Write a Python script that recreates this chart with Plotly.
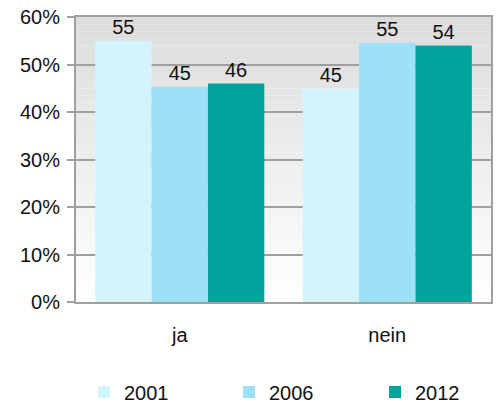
import plotly.graph_objects as go

categories = ["ja", "nein"]
years = ["2001", "2006", "2012"]
values_2001 = [55, 44.9]
values_2006 = [45.3, 54.6]
values_2012 = [46, 54]
labels_2001 = ["55", "45"]
labels_2006 = ["45", "55"]
labels_2012 = ["46", "54"]
colors = ["#d3f4fc", "#9ee0f5", "#00a39b"]
y_ticks = [0, 10, 20, 30, 40, 50, 60]
y_ticktext = ["0%", "10%", "20%", "30%", "40%", "50%", "60%"]

FONT = "Liberation Sans, Arial, sans-serif"
FS = 20
legend_ids = ["legend", "legend2", "legend3"]
legend_x = [84, 229, 375]

fig = go.Figure()
for name, vals, labs, col, lid in zip(years, [values_2001, values_2006, values_2012],
                                       [labels_2001, labels_2006, labels_2012], colors, legend_ids):
    fig.add_trace(go.Bar(
        x=categories, y=vals, name=name, marker=dict(color=col, line=dict(width=0)),
        text=labs, textposition="outside", cliponaxis=False,
        textfont=dict(size=FS, color="#111111", family=FONT),
        legend=lid,
    ))

# gradient background in plot area
shapes = []
n = 40
for i in range(n):
    t = i / (n - 1)
    c = int(round(255 - (255 - 220) * t))
    shapes.append(dict(type="rect", xref="paper", yref="paper",
                       x0=0, x1=1, y0=i / n, y1=(i + 1) / n,
                       fillcolor=f"rgb({c},{c},{c})", line=dict(width=0), layer="below"))

legend_common = dict(orientation="h", xref="container", yref="container",
                     yanchor="middle", xanchor="left", bgcolor="rgba(0,0,0,0)",
                     font=dict(size=FS, family=FONT, color="#111111"))

fig.update_layout(
    width=496, height=403,
    margin=dict(l=76, r=3, t=17, b=101),
    paper_bgcolor="white", plot_bgcolor="rgba(0,0,0,0)",
    barmode="group", bargap=0.185, bargroupgap=0,
    shapes=shapes,
    font=dict(family=FONT, size=FS, color="#111111"),
    showlegend=True,
    legend=dict(legend_common, x=legend_x[0] / 496, y=1 - 392 / 403),
    legend2=dict(legend_common, x=legend_x[1] / 496, y=1 - 392 / 403),
    legend3=dict(legend_common, x=legend_x[2] / 496, y=1 - 392 / 403),
)
fig.update_xaxes(
    showline=True, linecolor="#a0a0a0", linewidth=2, mirror=True,
    showgrid=False, ticks="", ticklabelstandoff=14,
    tickfont=dict(size=FS, family=FONT, color="#111111"),
)
fig.update_yaxes(
    range=[0, 60], tickvals=y_ticks, ticktext=y_ticktext,
    showline=True, linecolor="#a0a0a0", linewidth=2, mirror=True,
    showgrid=True, gridcolor="#a0a0a0", gridwidth=2,
    ticks="outside", ticklen=7, tickcolor="#a0a0a0", tickwidth=2,
    ticklabelstandoff=3, zeroline=False,
    tickfont=dict(size=FS, family=FONT, color="#111111"),
)
fig.write_html("out.html")
